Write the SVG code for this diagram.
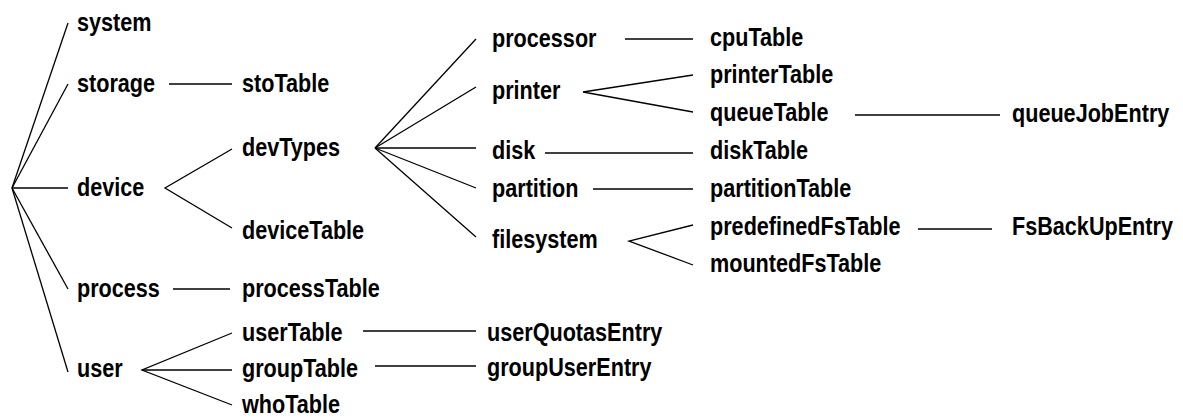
<svg xmlns="http://www.w3.org/2000/svg" width="1183" height="420" viewBox="0 0 1183 420">
<style>
text{font-family:"Liberation Sans",Arial,sans-serif;font-weight:bold;font-size:25px;fill:#000}
.c line,.c polyline{stroke:#000;stroke-width:1.3;fill:none}
</style>
<rect width="1183" height="420" fill="#fff"/>
<g class="c" id="connectors">
<line x1="12" y1="188" x2="68" y2="23"/>
<line x1="12" y1="188" x2="68" y2="84"/>
<line x1="12" y1="188" x2="68" y2="188"/>
<line x1="12" y1="188" x2="68" y2="289"/>
<line x1="12" y1="188" x2="68" y2="372"/>
<line x1="169" y1="84" x2="232" y2="84"/>
<polyline points="232,149 165,188 232,228"/>
<line x1="173" y1="289" x2="230" y2="289"/>
<polyline points="232,333 142,370 232,405"/>
<line x1="142" y1="370" x2="232" y2="370"/>
<line x1="363" y1="331" x2="476" y2="331"/>
<line x1="375" y1="366" x2="476" y2="366"/>
<line x1="375" y1="148" x2="476" y2="39"/>
<line x1="375" y1="148" x2="476" y2="87"/>
<line x1="375" y1="148" x2="476" y2="148"/>
<line x1="375" y1="148" x2="476" y2="188"/>
<line x1="375" y1="148" x2="476" y2="237"/>
<line x1="625" y1="39" x2="693" y2="39"/>
<polyline points="693,75 583,92 693,112"/>
<line x1="545" y1="153" x2="693" y2="153"/>
<line x1="593" y1="189" x2="693" y2="189"/>
<polyline points="693,225 629,241 693,265"/>
<line x1="855" y1="115" x2="1000" y2="115"/>
<line x1="918" y1="229" x2="992" y2="229"/>
</g>
<g id="n-system"><text transform="translate(77 31) scale(.865 1)">system</text></g>
<g id="n-storage"><text transform="translate(77 92) scale(.865 1)">storage</text></g>
<g id="n-device"><text transform="translate(77 196) scale(.865 1)">device</text></g>
<g id="n-process"><text transform="translate(77 297) scale(.865 1)">process</text></g>
<g id="n-user"><text transform="translate(77 377) scale(.865 1)">user</text></g>
<g id="n-stoTable"><text transform="translate(242 92) scale(.865 1)">stoTable</text></g>
<g id="n-devTypes"><text transform="translate(242 156) scale(.865 1)">devTypes</text></g>
<g id="n-deviceTable"><text transform="translate(242 239) scale(.865 1)">deviceTable</text></g>
<g id="n-processTable"><text transform="translate(242 297) scale(.865 1)">processTable</text></g>
<g id="n-userTable"><text transform="translate(242 341) scale(.865 1)">userTable</text></g>
<g id="n-groupTable"><text transform="translate(242 377) scale(.865 1)">groupTable</text></g>
<g id="n-whoTable"><text transform="translate(242 413) scale(.865 1)">whoTable</text></g>
<g id="n-userQuotasEntry"><text transform="translate(487 341) scale(.865 1)">userQuotasEntry</text></g>
<g id="n-groupUserEntry"><text transform="translate(487 376) scale(.865 1)">groupUserEntry</text></g>
<g id="n-processor"><text transform="translate(492 47) scale(.865 1)">processor</text></g>
<g id="n-printer"><text transform="translate(492 99) scale(.865 1)">printer</text></g>
<g id="n-disk"><text transform="translate(492 159) scale(.865 1)">disk</text></g>
<g id="n-partition"><text transform="translate(492 197) scale(.865 1)">partition</text></g>
<g id="n-filesystem"><text transform="translate(492 248) scale(.865 1)">filesystem</text></g>
<g id="n-cpuTable"><text transform="translate(710 46) scale(.865 1)">cpuTable</text></g>
<g id="n-printerTable"><text transform="translate(710 83) scale(.865 1)">printerTable</text></g>
<g id="n-queueTable"><text transform="translate(710 121) scale(.865 1)">queueTable</text></g>
<g id="n-diskTable"><text transform="translate(710 159) scale(.865 1)">diskTable</text></g>
<g id="n-partitionTable"><text transform="translate(710 197) scale(.865 1)">partitionTable</text></g>
<g id="n-predefinedFsTable"><text transform="translate(710 235) scale(.865 1)">predefinedFsTable</text></g>
<g id="n-mountedFsTable"><text transform="translate(710 272) scale(.865 1)">mountedFsTable</text></g>
<g id="n-queueJobEntry"><text transform="translate(1012 122) scale(.865 1)">queueJobEntry</text></g>
<g id="n-FsBackUpEntry"><text transform="translate(1012 235) scale(.865 1)">FsBackUpEntry</text></g>
</svg>
